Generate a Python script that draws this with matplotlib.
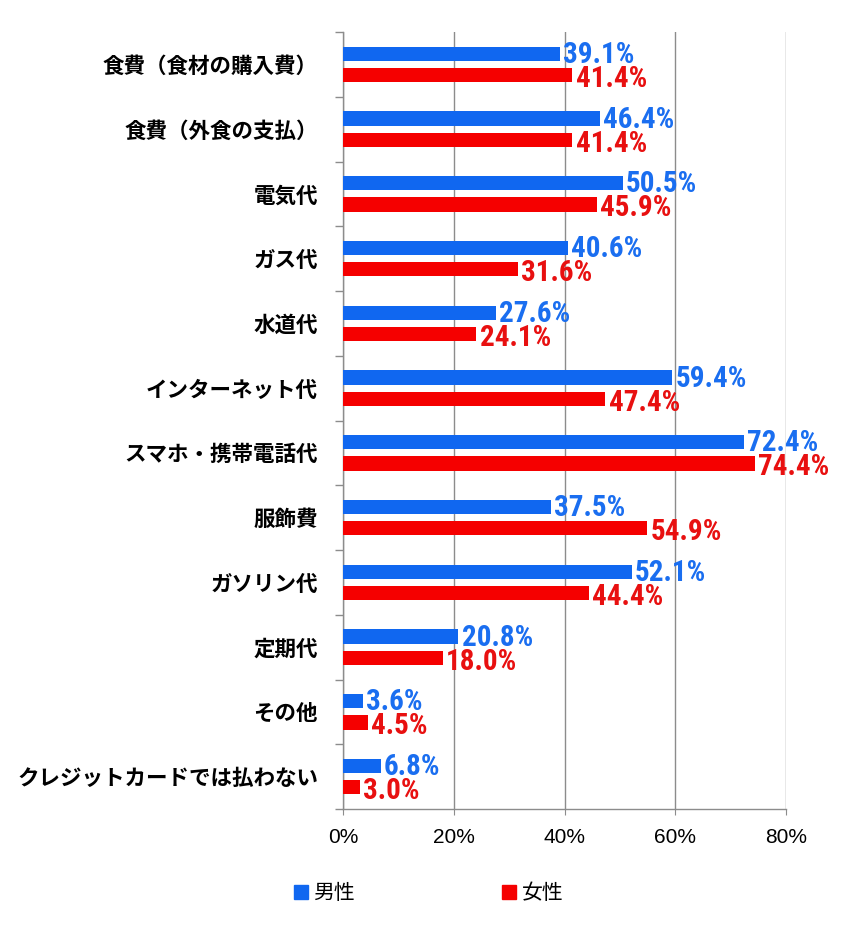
import numpy as np
import matplotlib
matplotlib.use('Agg')
import matplotlib.pyplot as plt
from matplotlib.lines import Line2D

plt.rcParams['font.family'] = ['Noto Sans CJK JP', 'DejaVu Sans']

categories = ['食費（食材の購入費）', '食費（外食の支払）', '電気代', 'ガス代', '水道代',
              'インターネット代', 'スマホ・携帯電話代', '服飾費', 'ガソリン代', '定期代',
              'その他', 'クレジットカードでは払わない']
male = [39.1, 46.4, 50.5, 40.6, 27.6, 59.4, 72.4, 37.5, 52.1, 20.8, 3.6, 6.8]
female = [41.4, 41.4, 45.9, 31.6, 24.1, 47.4, 74.4, 54.9, 44.4, 18.0, 4.5, 3.0]
series_names = ['男性', '女性']
xticks = [0, 20, 40, 60, 80]

blue = '#1067f0'
red = '#f50000'
blue_txt = '#1a6ef0'
red_txt = '#e81010'
grey = '#8c8c8c'
# condensed bold for the numbers, first one found is used
num_font = ['Roboto Condensed', 'Archivo Narrow', 'Barlow Condensed', 'Fira Sans Condensed',
            'IBM Plex Sans Condensed', 'Asap Condensed', 'DejaVu Sans']

fig = plt.figure(figsize=(8.47, 9.26), dpi=100)
ax = fig.add_axes([343 / 847, 1 - 809 / 926, 443 / 847, 777 / 926])

y = np.arange(len(categories))
off = 0.165
h = 0.22
ax.barh(y - off, male, height=h, color=blue, zorder=3)
ax.barh(y + off, female, height=h, color=red, zorder=3)

for yi, v in zip(y, male):
    ax.text(v + 0.6, yi - off + 0.02, f'{v:.1f}%', color=blue_txt, fontsize=21,
            fontweight='bold', family=num_font, va='center', ha='left', zorder=4)
for yi, v in zip(y, female):
    ax.text(v + 0.6, yi + off + 0.06, f'{v:.1f}%', color=red_txt, fontsize=21,
            fontweight='bold', family=num_font, va='center', ha='left', zorder=4)

ax.set_xlim(0, 80)
ax.set_ylim(len(categories) - 0.5, -0.5)
ax.set_xticks(xticks)
ax.set_xticklabels([f'{t}%' for t in xticks], fontsize=15, family=['Liberation Sans', 'DejaVu Sans'])
ax.set_yticks(y)
ax.set_yticklabels(categories, fontsize=15.5, fontweight='bold')
ax.set_yticks(np.arange(-0.5, len(categories)), minor=True)
ax.tick_params(axis='y', which='major', length=0, pad=18)
ax.tick_params(axis='y', which='minor', length=6, color=grey, width=1)
ax.tick_params(axis='x', length=4, color=grey, pad=10)

ax.grid(axis='x', color=grey, linewidth=1, zorder=0)
for s in ['top', 'right']:
    ax.spines[s].set_visible(False)
for s in ['left', 'bottom']:
    ax.spines[s].set_color(grey)
    ax.spines[s].set_linewidth(1)

handles = [Line2D([], [], marker='s', linestyle='none', color=blue, markersize=9.5),
           Line2D([], [], marker='s', linestyle='none', color=red, markersize=9.5)]
fig.legend(handles, series_names, loc='center', bbox_to_anchor=(427 / 847, 1 - 893 / 926),
           ncol=2, frameon=False, fontsize=15, handletextpad=0.1, columnspacing=6.9,
           handlelength=1.0)

fig.savefig('out.png', dpi=100, facecolor='white')
